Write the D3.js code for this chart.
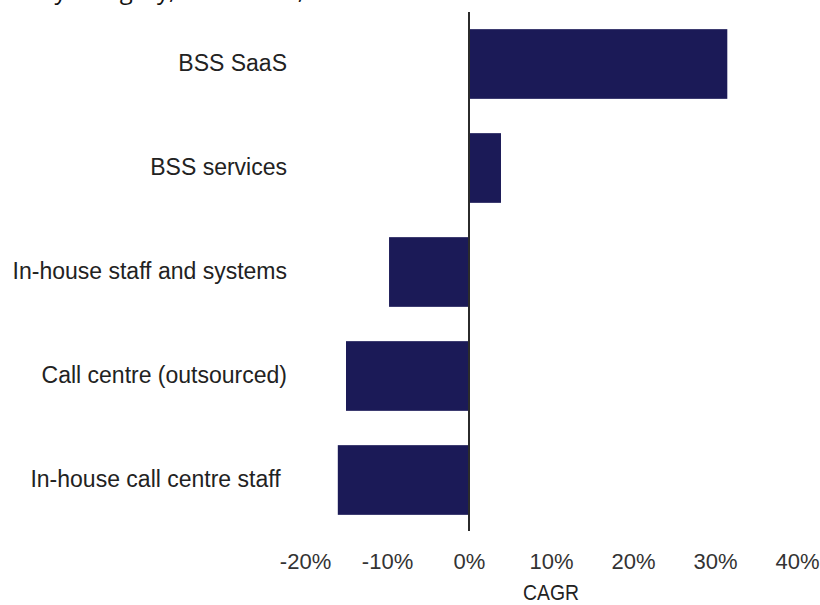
<!DOCTYPE html>
<html>
<head>
<meta charset="utf-8">
<script src="https://cdn.jsdelivr.net/npm/d3@7"></script>
<style>
  body { margin: 0; background: #fff; }
  svg { display: block; }
</style>
</head>
<body>
<div id="chart"></div>
<script>
// Data
const titleText = 'Figure 3: BSS spending growth by category, worldwide, 2023–2028';
const categories = ['BSS SaaS', 'BSS services', 'In-house staff and systems', 'Call centre (outsourced)', 'In-house call centre staff '];
const cagr = [0.315, 0.039, -0.0975, -0.15, -0.16];
const xTicks = [-0.2, -0.1, 0, 0.1, 0.2, 0.3, 0.4];
const xLabel = 'CAGR';

const width = 820;
const height = 605;

const svg = d3.select('#chart')
    .append('svg')
    .attr('width', width)
    .attr('height', height);

// Title, mostly cut off at the top edge
svg.append('text')
    .attr('x', 432)
    .attr('y', -1)
    .attr('text-anchor', 'end')
    .attr('fill', '#111')
    .style('font-family', '"Open Sans", sans-serif')
    .style('font-size', '24px')
    .text(titleText);

// Scales
const x = d3.scaleLinear()
    .domain([-0.2, 0.4])
    .range([305, 797]);

const y = d3.scaleBand()
    .domain(categories)
    .range([12, 532])
    .paddingInner(0.33)
    .paddingOuter(0.165);

// Bars
svg.selectAll('.bar')
    .data(categories)
    .enter()
    .append('rect')
    .attr('class', 'bar')
    .attr('x', (d, i) => x(Math.min(0, cagr[i])))
    .attr('y', d => y(d))
    .attr('width', (d, i) => Math.abs(x(cagr[i]) - x(0)))
    .attr('height', y.bandwidth())
    .attr('fill', '#1b1a57');

// Zero line
svg.append('line')
    .attr('x1', x(0))
    .attr('x2', x(0))
    .attr('y1', 12)
    .attr('y2', 531)
    .attr('stroke', '#2b2b2b')
    .attr('stroke-width', 2);

// Category labels
svg.append('g')
    .attr('transform', 'translate(287,0)')
    .call(d3.axisLeft(y).tickSize(0).tickPadding(0))
    .call(g => g.select('.domain').remove())
    .call(g => g.selectAll('text')
        .attr('fill', '#222')
        .style('white-space', 'pre')
        .style('font-family', '"Liberation Sans", Arial, sans-serif')
        .style('font-size', '23px'));

// X axis
const pct = d3.format('.0%');
svg.append('g')
    .attr('transform', 'translate(0,549)')
    .call(d3.axisBottom(x).tickValues(xTicks).tickFormat(d => pct(d).replace('−', '-')).tickSize(0).tickPadding(4))
    .call(g => g.select('.domain').remove())
    .call(g => g.selectAll('text')
        .attr('fill', '#333')
        .style('font-family', '"Liberation Sans", Arial, sans-serif')
        .style('font-size', '22px'));

// Axis label
svg.append('text')
    .attr('x', 551)
    .attr('y', 600)
    .attr('text-anchor', 'middle')
    .attr('fill', '#222')
    .attr('textLength', 56)
    .attr('lengthAdjust', 'spacingAndGlyphs')
    .style('font-family', '"Liberation Sans", Arial, sans-serif')
    .style('font-size', '22px')
    .text(xLabel);
</script>
</body>
</html>
